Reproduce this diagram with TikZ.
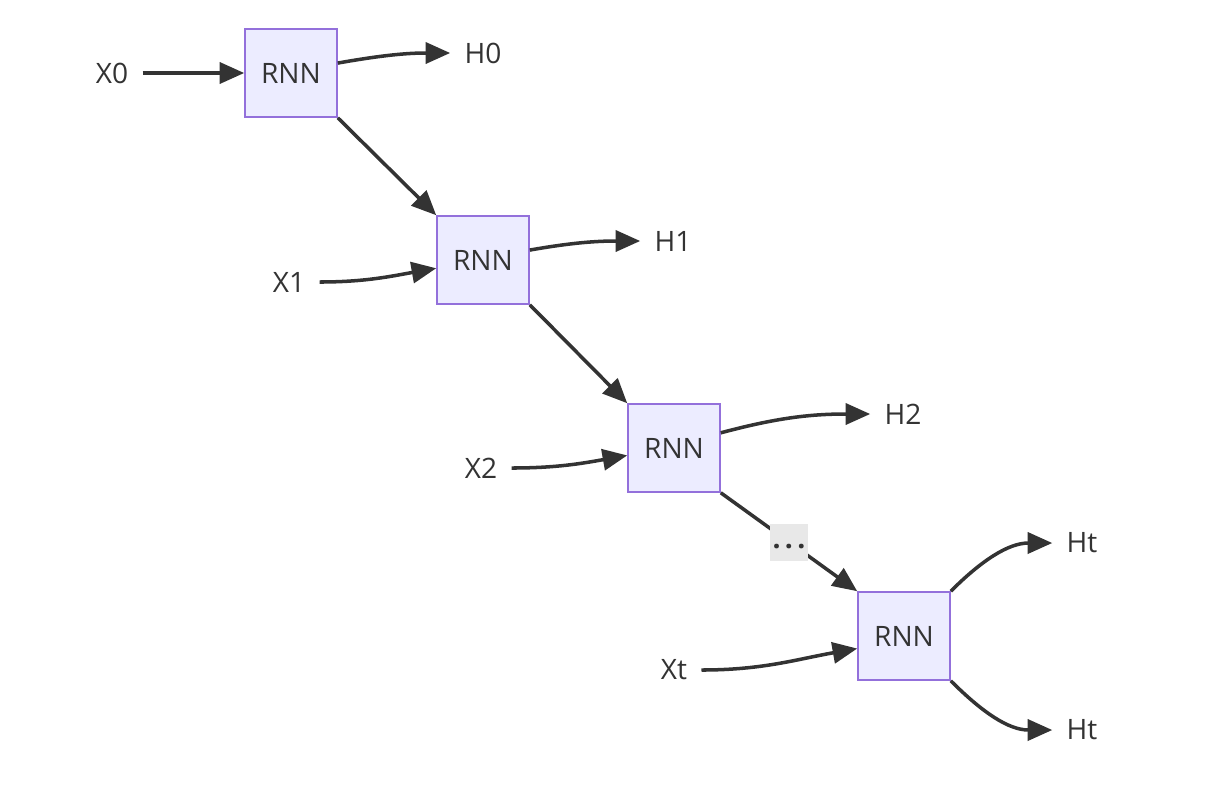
\documentclass[tikz,border=0pt]{standalone}
\usepackage{fontspec}
\setmainfont{Open Sans}
\usetikzlibrary{arrows.meta}
\definecolor{boxfill}{RGB}{236,236,255}
\definecolor{boxline}{RGB}{147,112,219}
\definecolor{linkgray}{RGB}{51,51,51}
\definecolor{dotsfill}{RGB}{232,232,232}

\begin{document}
\begin{tikzpicture}[x=0.02cm, y=0.02cm,
  rnn/.style={draw=boxline, line width=0.9pt, fill=boxfill, inner sep=0pt,
    minimum width=1.84cm, minimum height=1.76cm, text=linkgray,
    font=\fontsize{16}{19}\selectfont},
  lbl/.style={inner xsep=8pt, inner ysep=2pt, text=linkgray,
    font=\fontsize{16}{19}\selectfont},
  dotsbox/.style={fill=dotsfill, inner sep=0pt, minimum width=0.76cm,
    minimum height=0.74cm, text=linkgray, font=\fontsize{16}{19}\selectfont},
  link/.style={draw=linkgray, line width=2pt,
    -{Triangle[length=14pt, width=12pt]}},
]
  \useasboundingbox (0,0) rectangle (1212,-792);
  % cells
  \node[rnn] (r0) at (291,-73)  {RNN};
  \node[rnn] (r1) at (483,-260) {RNN};
  \node[rnn] (r2) at (674,-448) {RNN};
  \node[rnn] (r3) at (904,-636) {RNN};
  % inputs and outputs
  \node[lbl] (x0) at (112,-73)  {X0};
  \node[lbl] (h0) at (483,-53)  {H0};
  \node[lbl] (x1) at (289,-282) {X1};
  \node[lbl] (h1) at (673,-241) {H1};
  \node[lbl] (x2) at (481,-468) {X2};
  \node[lbl] (h2) at (903,-414) {H2};
  \node[lbl] (xt) at (674,-670) {Xt};
  \node[lbl] (ht1) at (1082,-543) {Ht};
  \node[lbl] (ht2) at (1082,-730) {Ht};

  \draw[link] (x0) -- (r0);
  \draw[link] (r0.12) to[out=10, in=180] (h0.west);
  \draw[link] (x1.east) to[out=0, in=190] (r1.190);
  \draw[link] (r1.12) to[out=10, in=180] (h1.west);
  \draw[link] (x2.east) to[out=0, in=190] (r2.189);
  \draw[link] (r2.18) to[out=15, in=180] (h2.west);
  \draw[link] (xt.east) to[out=0, in=190] (r3.195);
  \draw[link] (r3.north east) to[out=45, in=180] (ht1.west);
  \draw[link] (r3.south east) to[out=-45, in=180] (ht2.west);

  % hidden state chain
  \draw[link] (r0.south east) -- (r1.north west);
  \draw[link] (r1.south east) -- (r2.north west);
  \draw[link] (r2.south east) -- (r3.north west)
    node[dotsbox, midway] (gap) {\strut\bfseries .\hspace{2.5pt}.\hspace{2.5pt}.};
\end{tikzpicture}
\end{document}
